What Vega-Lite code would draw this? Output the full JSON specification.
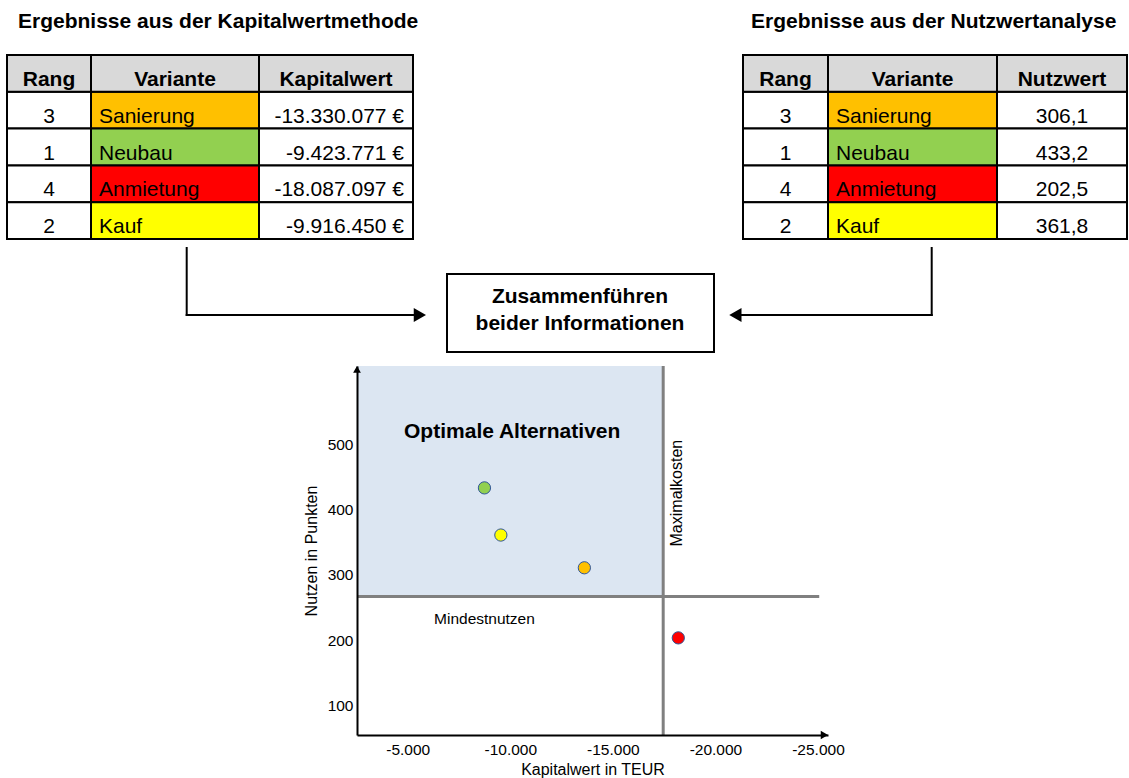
{
  "$schema": "https://vega.github.io/schema/vega-lite/v6.json",
  "background": "white",
  "padding": {"left": 6, "top": 0, "right": 0, "bottom": 0},
  "config": {
    "view": {"stroke": null},
    "font": "Liberation Sans",
    "locale": {"number": {"decimal": ",", "thousands": ".", "grouping": [3], "currency": ["", "\u00a0€"], "minus": "-"}}
  },
  "datasets": {
    "varianten": [
      {"Variante": "Sanierung", "Rang_KW": 3, "Kapitalwert": -13330077, "Rang_NW": 3, "Nutzwert": 306.1},
      {"Variante": "Neubau", "Rang_KW": 1, "Kapitalwert": -9423771, "Rang_NW": 1, "Nutzwert": 433.2},
      {"Variante": "Anmietung", "Rang_KW": 4, "Kapitalwert": -18087097, "Rang_NW": 4, "Nutzwert": 202.5},
      {"Variante": "Kauf", "Rang_KW": 2, "Kapitalwert": -9916450, "Rang_NW": 2, "Nutzwert": 361.8}
    ],
    "kopf_kw": [{"Zeile": "Kopf", "Rang": "Rang", "Variante": "Variante", "Wert": "Kapitalwert"}],
    "kopf_nw": [{"Zeile": "Kopf", "Rang": "Rang", "Variante": "Variante", "Wert": "Nutzwert"}],
    "punkte": [
      {"Variante": "Neubau", "Kapitalwert_TEUR": -8740, "Nutzen": 433},
      {"Variante": "Kauf", "Kapitalwert_TEUR": -9540, "Nutzen": 361},
      {"Variante": "Sanierung", "Kapitalwert_TEUR": -13610, "Nutzen": 311},
      {"Variante": "Anmietung", "Kapitalwert_TEUR": -18190, "Nutzen": 204}
    ],
    "grenzen": [{"Mindestnutzen": 267, "Maximalkosten": -17454}]
  },
  "spacing": 0,
  "vconcat": [
    {
      "width": 1120, "height": 54,
      "data": {"values": [{}]},
      "layer": [
        {"mark": {"type": "text", "fontSize": 21, "fontWeight": "bold", "align": "left", "baseline": "alphabetic", "color": "black"},
         "encoding": {"x": {"datum": 17, "type": "quantitative", "scale": {"domain": [6, 1126], "nice": false, "zero": false}, "axis": null},
                      "y": {"datum": 28, "type": "quantitative", "scale": {"domain": [0, 54], "reverse": true, "nice": false, "zero": false}, "axis": null},
                      "text": {"value": "Ergebnisse aus der Kapitalwertmethode"}}},
        {"mark": {"type": "text", "fontSize": 21, "fontWeight": "bold", "align": "left", "baseline": "alphabetic", "color": "black"},
         "encoding": {"x": {"datum": 750, "type": "quantitative", "scale": {"domain": [6, 1126], "nice": false, "zero": false}, "axis": null},
                      "y": {"datum": 28, "type": "quantitative", "scale": {"domain": [0, 54], "reverse": true, "nice": false, "zero": false}, "axis": null},
                      "text": {"value": "Ergebnisse aus der Nutzwertanalyse"}}}
      ]
    },
    {
      "bounds": "flush",
      "spacing": 0,
      "hconcat": [
        {
          "width": 84, "height": 184,
          "layer": [
            {"data": {"name": "varianten"}, "mark": {"type": "rect", "fill": "white", "stroke": "black", "strokeWidth": 2},
             "encoding": {"y": {"field": "Variante", "type": "nominal", "scale": {"domain": ["Kopf", "Sanierung", "Neubau", "Anmietung", "Kauf"], "paddingInner": 0, "paddingOuter": 0}, "axis": null}}},
            {"data": {"name": "varianten"}, "mark": {"type": "text", "fontSize": 21, "baseline": "alphabetic", "dy": 12.5, "color": "black"},
             "encoding": {"y": {"field": "Variante", "type": "nominal", "axis": null}, "text": {"field": "Rang_KW", "type": "quantitative"}}},
            {"data": {"name": "kopf_kw"}, "mark": {"type": "rect", "fill": "#D9D9D9", "stroke": "black", "strokeWidth": 2},
             "encoding": {"y": {"field": "Zeile", "type": "nominal", "axis": null}}},
            {"data": {"name": "kopf_kw"}, "mark": {"type": "text", "fontSize": 21, "fontWeight": "bold", "baseline": "alphabetic", "dy": 12.5, "color": "black"},
             "encoding": {"y": {"field": "Zeile", "type": "nominal", "axis": null}, "text": {"field": "Rang", "type": "nominal"}}}
          ]
        },
        {
          "width": 168, "height": 184,
          "layer": [
            {"data": {"name": "varianten"}, "mark": {"type": "rect", "stroke": "black", "strokeWidth": 2, "opacity": 1},
             "encoding": {"y": {"field": "Variante", "type": "nominal", "scale": {"domain": ["Kopf", "Sanierung", "Neubau", "Anmietung", "Kauf"], "paddingInner": 0, "paddingOuter": 0}, "axis": null},
                          "fill": {"field": "Variante", "type": "nominal", "scale": {"domain": ["Sanierung", "Neubau", "Anmietung", "Kauf"], "range": ["#FFC000", "#92D050", "#FF0000", "#FFFF00"]}, "legend": null}}},
            {"data": {"name": "varianten"}, "mark": {"type": "text", "fontSize": 21, "baseline": "alphabetic", "align": "left", "dx": -76, "dy": 12.5, "color": "black"},
             "encoding": {"y": {"field": "Variante", "type": "nominal", "axis": null}, "text": {"field": "Variante", "type": "nominal"}}},
            {"data": {"name": "kopf_kw"}, "mark": {"type": "rect", "fill": "#D9D9D9", "stroke": "black", "strokeWidth": 2},
             "encoding": {"y": {"field": "Zeile", "type": "nominal", "axis": null}}},
            {"data": {"name": "kopf_kw"}, "mark": {"type": "text", "fontSize": 21, "fontWeight": "bold", "baseline": "alphabetic", "dy": 12.5, "color": "black"},
             "encoding": {"y": {"field": "Zeile", "type": "nominal", "axis": null}, "text": {"field": "Variante", "type": "nominal"}}}
          ]
        },
        {
          "width": 154, "height": 184,
          "layer": [
            {"data": {"name": "varianten"}, "mark": {"type": "rect", "fill": "white", "stroke": "black", "strokeWidth": 2},
             "encoding": {"y": {"field": "Variante", "type": "nominal", "scale": {"domain": ["Kopf", "Sanierung", "Neubau", "Anmietung", "Kauf"], "paddingInner": 0, "paddingOuter": 0}, "axis": null}}},
            {"data": {"name": "varianten"}, "mark": {"type": "text", "fontSize": 21, "baseline": "alphabetic", "align": "right", "dx": 68, "dy": 12.5, "color": "black"},
             "encoding": {"y": {"field": "Variante", "type": "nominal", "axis": null}, "text": {"field": "Kapitalwert", "type": "quantitative", "format": "$,.0f"}}},
            {"data": {"name": "kopf_kw"}, "mark": {"type": "rect", "fill": "#D9D9D9", "stroke": "black", "strokeWidth": 2},
             "encoding": {"y": {"field": "Zeile", "type": "nominal", "axis": null}}},
            {"data": {"name": "kopf_kw"}, "mark": {"type": "text", "fontSize": 21, "fontWeight": "bold", "baseline": "alphabetic", "dy": 12.5, "color": "black"},
             "encoding": {"y": {"field": "Zeile", "type": "nominal", "axis": null}, "text": {"field": "Wert", "type": "nominal"}}}
          ]
        },
        {"width": 330, "height": 184, "data": {"values": [{}]}, "mark": {"type": "point", "opacity": 0}, "encoding": {}},
        {
          "width": 85, "height": 184,
          "layer": [
            {"data": {"name": "varianten"}, "mark": {"type": "rect", "fill": "white", "stroke": "black", "strokeWidth": 2},
             "encoding": {"y": {"field": "Variante", "type": "nominal", "scale": {"domain": ["Kopf", "Sanierung", "Neubau", "Anmietung", "Kauf"], "paddingInner": 0, "paddingOuter": 0}, "axis": null}}},
            {"data": {"name": "varianten"}, "mark": {"type": "text", "fontSize": 21, "baseline": "alphabetic", "dy": 12.5, "color": "black"},
             "encoding": {"y": {"field": "Variante", "type": "nominal", "axis": null}, "text": {"field": "Rang_NW", "type": "quantitative"}}},
            {"data": {"name": "kopf_nw"}, "mark": {"type": "rect", "fill": "#D9D9D9", "stroke": "black", "strokeWidth": 2},
             "encoding": {"y": {"field": "Zeile", "type": "nominal", "axis": null}}},
            {"data": {"name": "kopf_nw"}, "mark": {"type": "text", "fontSize": 21, "fontWeight": "bold", "baseline": "alphabetic", "dy": 12.5, "color": "black"},
             "encoding": {"y": {"field": "Zeile", "type": "nominal", "axis": null}, "text": {"field": "Rang", "type": "nominal"}}}
          ]
        },
        {
          "width": 169, "height": 184,
          "layer": [
            {"data": {"name": "varianten"}, "mark": {"type": "rect", "stroke": "black", "strokeWidth": 2, "opacity": 1},
             "encoding": {"y": {"field": "Variante", "type": "nominal", "scale": {"domain": ["Kopf", "Sanierung", "Neubau", "Anmietung", "Kauf"], "paddingInner": 0, "paddingOuter": 0}, "axis": null},
                          "fill": {"field": "Variante", "type": "nominal", "scale": {"domain": ["Sanierung", "Neubau", "Anmietung", "Kauf"], "range": ["#FFC000", "#92D050", "#FF0000", "#FFFF00"]}, "legend": null}}},
            {"data": {"name": "varianten"}, "mark": {"type": "text", "fontSize": 21, "baseline": "alphabetic", "align": "left", "dx": -76.5, "dy": 12.5, "color": "black"},
             "encoding": {"y": {"field": "Variante", "type": "nominal", "axis": null}, "text": {"field": "Variante", "type": "nominal"}}},
            {"data": {"name": "kopf_nw"}, "mark": {"type": "rect", "fill": "#D9D9D9", "stroke": "black", "strokeWidth": 2},
             "encoding": {"y": {"field": "Zeile", "type": "nominal", "axis": null}}},
            {"data": {"name": "kopf_nw"}, "mark": {"type": "text", "fontSize": 21, "fontWeight": "bold", "baseline": "alphabetic", "dy": 12.5, "color": "black"},
             "encoding": {"y": {"field": "Zeile", "type": "nominal", "axis": null}, "text": {"field": "Variante", "type": "nominal"}}}
          ]
        },
        {
          "width": 130, "height": 184,
          "layer": [
            {"data": {"name": "varianten"}, "mark": {"type": "rect", "fill": "white", "stroke": "black", "strokeWidth": 2},
             "encoding": {"y": {"field": "Variante", "type": "nominal", "scale": {"domain": ["Kopf", "Sanierung", "Neubau", "Anmietung", "Kauf"], "paddingInner": 0, "paddingOuter": 0}, "axis": null}}},
            {"data": {"name": "varianten"}, "mark": {"type": "text", "fontSize": 21, "baseline": "alphabetic", "dy": 12.5, "color": "black"},
             "encoding": {"y": {"field": "Variante", "type": "nominal", "axis": null}, "text": {"field": "Nutzwert", "type": "quantitative", "format": ".1f"}}},
            {"data": {"name": "kopf_nw"}, "mark": {"type": "rect", "fill": "#D9D9D9", "stroke": "black", "strokeWidth": 2},
             "encoding": {"y": {"field": "Zeile", "type": "nominal", "axis": null}}},
            {"data": {"name": "kopf_nw"}, "mark": {"type": "text", "fontSize": 21, "fontWeight": "bold", "baseline": "alphabetic", "dy": 12.5, "color": "black"},
             "encoding": {"y": {"field": "Zeile", "type": "nominal", "axis": null}, "text": {"field": "Wert", "type": "nominal"}}}
          ]
        }
      ]
    },
    {
      "width": 1120, "height": 124,
      "data": {"values": [{}]},
      "layer": [
        {"mark": {"type": "rule", "stroke": "black", "strokeWidth": 2, "strokeCap": "square"},
         "encoding": {"x": {"datum": 185.7, "type": "quantitative", "scale": {"domain": [6, 1126], "nice": false, "zero": false}, "axis": null},
                      "y": {"datum": 248, "type": "quantitative", "scale": {"domain": [240, 364], "reverse": true, "nice": false, "zero": false}, "axis": null},
                      "y2": {"datum": 315}}},
        {"mark": {"type": "rule", "stroke": "black", "strokeWidth": 2, "strokeCap": "square"},
         "encoding": {"x": {"datum": 185.7, "type": "quantitative", "scale": {"domain": [6, 1126], "nice": false, "zero": false}, "axis": null},
                      "x2": {"datum": 420},
                      "y": {"datum": 315, "type": "quantitative", "scale": {"domain": [240, 364], "reverse": true, "nice": false, "zero": false}, "axis": null}}},
        {"mark": {"type": "point", "shape": "triangle-right", "filled": true, "size": 200, "color": "black", "opacity": 1},
         "encoding": {"x": {"datum": 418.9, "type": "quantitative", "scale": {"domain": [6, 1126], "nice": false, "zero": false}, "axis": null},
                      "y": {"datum": 315, "type": "quantitative", "scale": {"domain": [240, 364], "reverse": true, "nice": false, "zero": false}, "axis": null}}},
        {"mark": {"type": "rule", "stroke": "black", "strokeWidth": 2, "strokeCap": "square"},
         "encoding": {"x": {"datum": 930.7, "type": "quantitative", "scale": {"domain": [6, 1126], "nice": false, "zero": false}, "axis": null},
                      "y": {"datum": 248, "type": "quantitative", "scale": {"domain": [240, 364], "reverse": true, "nice": false, "zero": false}, "axis": null},
                      "y2": {"datum": 315}}},
        {"mark": {"type": "rule", "stroke": "black", "strokeWidth": 2, "strokeCap": "square"},
         "encoding": {"x": {"datum": 735, "type": "quantitative", "scale": {"domain": [6, 1126], "nice": false, "zero": false}, "axis": null},
                      "x2": {"datum": 930.7},
                      "y": {"datum": 315, "type": "quantitative", "scale": {"domain": [240, 364], "reverse": true, "nice": false, "zero": false}, "axis": null}}},
        {"mark": {"type": "point", "shape": "triangle-left", "filled": true, "size": 200, "color": "black", "opacity": 1},
         "encoding": {"x": {"datum": 734.4, "type": "quantitative", "scale": {"domain": [6, 1126], "nice": false, "zero": false}, "axis": null},
                      "y": {"datum": 315, "type": "quantitative", "scale": {"domain": [240, 364], "reverse": true, "nice": false, "zero": false}, "axis": null}}},
        {"mark": {"type": "rect", "fill": "white", "stroke": "black", "strokeWidth": 2},
         "encoding": {"x": {"datum": 446, "type": "quantitative", "scale": {"domain": [6, 1126], "nice": false, "zero": false}, "axis": null},
                      "x2": {"datum": 713},
                      "y": {"datum": 274, "type": "quantitative", "scale": {"domain": [240, 364], "reverse": true, "nice": false, "zero": false}, "axis": null},
                      "y2": {"datum": 352}}},
        {"mark": {"type": "text", "fontSize": 21, "fontWeight": "bold", "align": "center", "baseline": "alphabetic", "color": "black"},
         "encoding": {"x": {"datum": 579, "type": "quantitative", "scale": {"domain": [6, 1126], "nice": false, "zero": false}, "axis": null},
                      "y": {"datum": 303, "type": "quantitative", "scale": {"domain": [240, 364], "reverse": true, "nice": false, "zero": false}, "axis": null},
                      "text": {"value": "Zusammenführen"}}},
        {"mark": {"type": "text", "fontSize": 21, "fontWeight": "bold", "align": "center", "baseline": "alphabetic", "color": "black"},
         "encoding": {"x": {"datum": 579, "type": "quantitative", "scale": {"domain": [6, 1126], "nice": false, "zero": false}, "axis": null},
                      "y": {"datum": 330, "type": "quantitative", "scale": {"domain": [240, 364], "reverse": true, "nice": false, "zero": false}, "axis": null},
                      "text": {"value": "beider Informationen"}}}
      ]
    },
    {
      "bounds": "flush",
      "spacing": 0,
      "hconcat": [
        {"width": 350, "height": 369, "data": {"values": [{}]}, "mark": {"type": "point", "opacity": 0}, "encoding": {}},
        {
          "width": 471, "height": 369,
          "layer": [
            {"data": {"name": "grenzen"}, "mark": {"type": "rect", "fill": "#DCE6F2"},
             "encoding": {"x": {"field": "Maximalkosten", "type": "quantitative", "scale": {"domain": [-25488, -2527], "reverse": true, "nice": false, "zero": false},
                                "axis": {"title": "Kapitalwert in TEUR", "values": [-5000, -10000, -15000, -20000, -25000], "format": ",.0f", "ticks": false, "grid": false, "domainColor": "black", "domainWidth": 2, "labelFontSize": 15.5, "labelColor": "black", "labelPadding": 7, "labelFlush": false, "labelOverlap": false, "titleFontSize": 16, "titleFontWeight": "normal", "titleColor": "black", "titlePadding": 4, "zindex": 1}},
                          "x2": {"datum": -2527},
                          "y": {"field": "Mindestnutzen", "type": "quantitative", "scale": {"domain": [55.7, 619.1], "nice": false, "zero": false},
                                "axis": {"title": "Nutzen in Punkten", "values": [100, 200, 300, 400, 500], "ticks": false, "grid": false, "domainColor": "black", "domainWidth": 2, "labelFontSize": 15.5, "labelColor": "black", "labelPadding": 4, "labelFlush": false, "labelOverlap": false, "titleFontSize": 16, "titleFontWeight": "normal", "titleColor": "black", "titlePadding": 8, "zindex": 1}},
                          "y2": {"datum": 619.1}}},
            {"data": {"name": "grenzen"}, "mark": {"type": "rule", "stroke": "#808080", "strokeWidth": 3},
             "encoding": {"x": {"field": "Maximalkosten", "type": "quantitative", "scale": {"domain": [-25488, -2527], "reverse": true, "nice": false, "zero": false}}}},
            {"data": {"name": "grenzen"}, "mark": {"type": "rule", "stroke": "#808080", "strokeWidth": 3},
             "encoding": {"y": {"field": "Mindestnutzen", "type": "quantitative", "scale": {"domain": [55.7, 619.1], "nice": false, "zero": false}},
                          "x": {"datum": -2527, "type": "quantitative", "scale": {"domain": [-25488, -2527], "reverse": true, "nice": false, "zero": false}},
                          "x2": {"datum": -25060}}},
            {"data": {"name": "grenzen"}, "mark": {"type": "text", "fontSize": 15.5, "align": "left", "baseline": "middle", "color": "black"},
             "encoding": {"x": {"datum": -6283, "type": "quantitative", "scale": {"domain": [-25488, -2527], "reverse": true, "nice": false, "zero": false}},
                          "y": {"datum": 233, "type": "quantitative", "scale": {"domain": [55.7, 619.1], "nice": false, "zero": false}},
                          "text": {"value": "Mindestnutzen"}}},
            {"data": {"name": "grenzen"}, "mark": {"type": "text", "fontSize": 16, "align": "center", "baseline": "middle", "angle": 270, "color": "black"},
             "encoding": {"x": {"datum": -18137, "type": "quantitative", "scale": {"domain": [-25488, -2527], "reverse": true, "nice": false, "zero": false}},
                          "y": {"datum": 425, "type": "quantitative", "scale": {"domain": [55.7, 619.1], "nice": false, "zero": false}},
                          "text": {"value": "Maximalkosten"}}},
            {"data": {"name": "grenzen"}, "mark": {"type": "text", "fontSize": 21, "fontWeight": "bold", "align": "left", "baseline": "alphabetic", "color": "black"},
             "encoding": {"x": {"datum": -4820, "type": "quantitative", "scale": {"domain": [-25488, -2527], "reverse": true, "nice": false, "zero": false}},
                          "y": {"datum": 509, "type": "quantitative", "scale": {"domain": [55.7, 619.1], "nice": false, "zero": false}},
                          "text": {"value": "Optimale Alternativen"}}},
            {"data": {"name": "punkte"}, "mark": {"type": "point", "shape": "circle", "filled": true, "size": 150, "stroke": "#2F5597", "strokeWidth": 1, "opacity": 1},
             "encoding": {
               "x": {"field": "Kapitalwert_TEUR", "type": "quantitative", "scale": {"domain": [-25488, -2527], "reverse": true, "nice": false, "zero": false},
                     "axis": {"title": "Kapitalwert in TEUR", "values": [-5000, -10000, -15000, -20000, -25000], "format": ",.0f", "ticks": false, "grid": false, "domainColor": "black", "domainWidth": 2, "labelFontSize": 15.5, "labelColor": "black", "labelPadding": 7, "labelFlush": false, "labelOverlap": false, "titleFontSize": 16, "titleFontWeight": "normal", "titleColor": "black", "titlePadding": 4, "zindex": 1}},
               "y": {"field": "Nutzen", "type": "quantitative", "scale": {"domain": [55.7, 619.1], "nice": false, "zero": false},
                     "axis": {"title": "Nutzen in Punkten", "values": [100, 200, 300, 400, 500], "ticks": false, "grid": false, "domainColor": "black", "domainWidth": 2, "labelFontSize": 15.5, "labelColor": "black", "labelPadding": 4, "labelFlush": false, "labelOverlap": false, "titleFontSize": 16, "titleFontWeight": "normal", "titleColor": "black", "titlePadding": 8, "zindex": 1}},
               "fill": {"field": "Variante", "type": "nominal", "scale": {"domain": ["Sanierung", "Neubau", "Anmietung", "Kauf"], "range": ["#FFC000", "#92D050", "#FF0000", "#FFFF00"]}, "legend": null}
             }},
            {"data": {"name": "grenzen"}, "mark": {"type": "point", "shape": "triangle-up", "filled": true, "size": 60, "color": "black", "opacity": 1},
             "encoding": {"x": {"datum": -2527, "type": "quantitative", "scale": {"domain": [-25488, -2527], "reverse": true, "nice": false, "zero": false}},
                          "y": {"datum": 614, "type": "quantitative", "scale": {"domain": [55.7, 619.1], "nice": false, "zero": false}}}},
            {"data": {"name": "grenzen"}, "mark": {"type": "point", "shape": "triangle-right", "filled": true, "size": 70, "color": "black", "opacity": 1},
             "encoding": {"x": {"datum": -25312, "type": "quantitative", "scale": {"domain": [-25488, -2527], "reverse": true, "nice": false, "zero": false}},
                          "y": {"datum": 55.7, "type": "quantitative", "scale": {"domain": [55.7, 619.1], "nice": false, "zero": false}}}}
          ]
        }
      ]
    }
  ]
}
